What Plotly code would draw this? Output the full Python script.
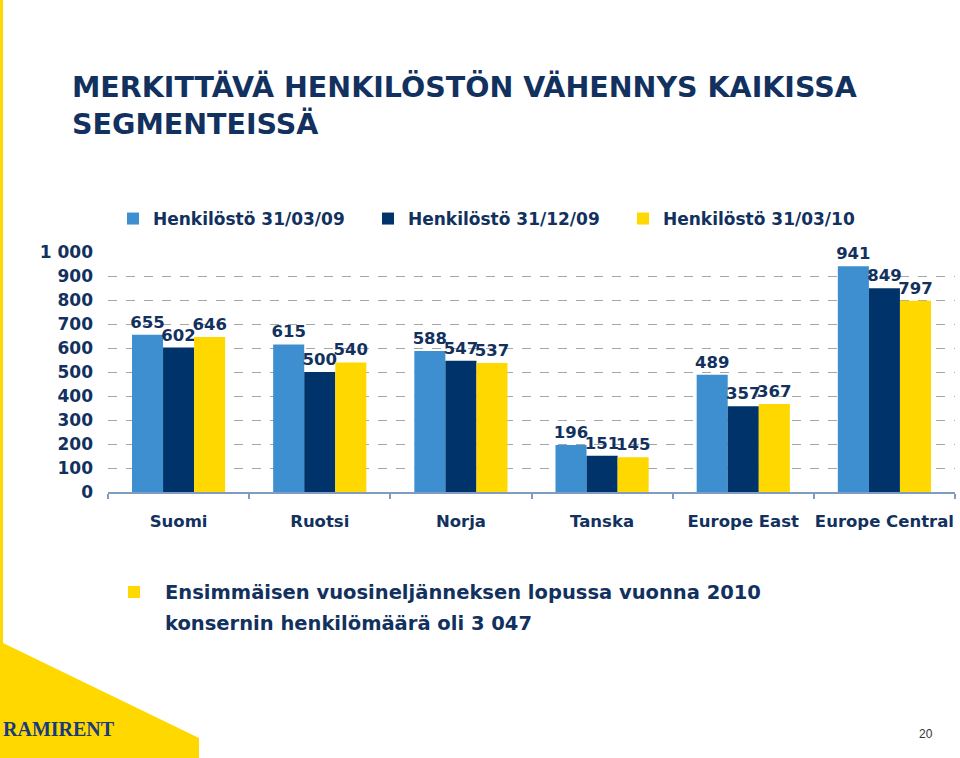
import plotly.graph_objects as go

categories = ["Suomi", "Ruotsi", "Norja", "Tanska", "Europe East", "Europe Central"]
series_names = ["Henkilöstö 31/03/09", "Henkilöstö 31/12/09", "Henkilöstö 31/03/10"]
values_0309 = [655, 615, 588, 196, 489, 941]
values_1209 = [602, 500, 547, 151, 357, 849]
values_0310 = [646, 540, 537, 145, 367, 797]
y_tick_vals = [0, 100, 200, 300, 400, 500, 600, 700, 800, 900, 1000]
y_tick_text = ["0", "100", "200", "300", "400", "500", "600", "700", "800", "900", "1 000"]

colors = ["#3E8FD0", "#00336A", "#FFD800"]
NAVY = "#12315E"
FONT = "DejaVu Sans"

W, H = 960, 758
L, R, T, B = 108, 955, 252, 492  # plot area pixels


def px(x):
    return (x - L) / (R - L)


def py(y):
    return (B - y) / (B - T)


fig = go.Figure()
for name, vals, col in zip(series_names, [values_0309, values_1209, values_0310], colors):
    fig.add_trace(go.Bar(
        x=categories, y=vals, name=name, marker=dict(color=col, line=dict(width=0)),
        text=[str(v) for v in vals], textposition="outside", constraintext="none",
        cliponaxis=False,
        textfont=dict(family=FONT, size=16.5, color=NAVY, weight="bold"),
    ))

shapes = []
# yellow left strip + corner triangle
path = "M {x0},{y0} L {x1},{y0} L {x1},{y2} L {x3},{y3} L {x3},{y4} L {x0},{y4} Z".format(
    x0=px(0), x1=px(3), x3=px(199), y0=py(0), y2=py(643), y3=py(738), y4=py(758))
shapes.append(dict(type="path", xref="paper", yref="paper", path=path,
                   fillcolor="#FFD800", line=dict(width=0), layer="below"))
# bullet square
shapes.append(dict(type="rect", xref="paper", yref="paper",
                   x0=px(128), x1=px(140), y0=py(598), y1=py(586),
                   fillcolor="#FFD800", line=dict(width=0)))

annotations = [
    dict(text="MERKITTÄVÄ HENKILÖSTÖN VÄHENNYS KAIKISSA<br>SEGMENTEISSÄ",
         xref="paper", yref="paper", x=px(70), y=py(68), xanchor="left", yanchor="top",
         align="left", showarrow=False,
         font=dict(family=FONT, size=28.5, color=NAVY, weight="bold")),
    dict(text="Ensimmäisen vuosineljänneksen lopussa vuonna 2010",
         xref="paper", yref="paper", x=px(163), y=py(592), xanchor="left", yanchor="middle",
         align="left", showarrow=False,
         font=dict(family=FONT, size=19.5, color=NAVY, weight="bold")),
    dict(text="konsernin henkilömäärä oli 3 047",
         xref="paper", yref="paper", x=px(163), y=py(623), xanchor="left", yanchor="middle",
         align="left", showarrow=False,
         font=dict(family=FONT, size=19.5, color=NAVY, weight="bold")),
    dict(text="RAMIRENT", xref="paper", yref="paper", x=px(1), y=py(729),
         xanchor="left", yanchor="middle", showarrow=False,
         font=dict(family="Liberation Serif", size=20, color="#1A3A7C", weight="bold")),
    dict(text="20", xref="paper", yref="paper", x=px(926), y=py(734),
         xanchor="center", yanchor="middle", showarrow=False,
         font=dict(family="Liberation Sans", size=12, color="#333333")),
]

fig.update_layout(
    width=W, height=H,
    margin=dict(l=L, r=W - R, t=T, b=H - B, pad=0, autoexpand=False),
    plot_bgcolor="white", paper_bgcolor="white",
    barmode="group", bargap=0.34, bargroupgap=0,
    font=dict(family=FONT, color=NAVY),
    showlegend=True,
    legend=dict(orientation="h", x=px(113), y=py(219), xanchor="left", yanchor="middle",
                entrywidth=210, entrywidthmode="pixels", itemwidth=30,
                font=dict(family=FONT, size=17, color=NAVY, weight="bold"),
                bgcolor="rgba(0,0,0,0)"),
    shapes=shapes, annotations=annotations,
)
fig.update_xaxes(
    automargin=False, tickangle=0,
    showline=True, linecolor="#7F9DC0", linewidth=2,
    ticks="outside", ticklen=5, tickcolor="#7F9DC0", tickwidth=2, tickson="boundaries",
    ticklabelstandoff=13,
    tickfont=dict(family=FONT, size=16.5, color=NAVY, weight="bold"),
    showgrid=False,
)
fig.update_yaxes(
    automargin=False,
    range=[0, 1000], tickvals=y_tick_vals, ticktext=y_tick_text,
    showgrid=True, gridcolor="#A6A6A6", griddash="dash", gridwidth=1,
    zeroline=False, showline=False, ticks="", ticklabelstandoff=14,
    tickfont=dict(family=FONT, size=17, color=NAVY, weight="bold"),
)

fig.write_html("out.html", config={"displayModeBar": False},
               post_script="document.body.style.margin='0';")
